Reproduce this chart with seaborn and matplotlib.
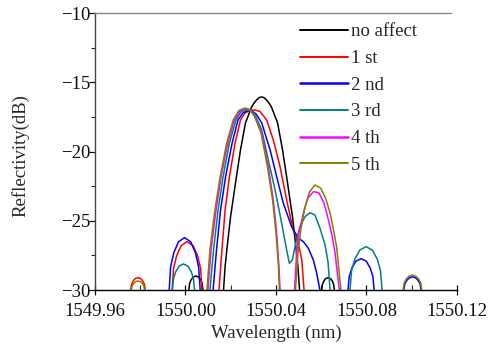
import numpy as np
import pandas as pd
import matplotlib
matplotlib.use("Agg")
import matplotlib.pyplot as plt
from matplotlib.lines import Line2D
import seaborn as sns

# ---------------- data ----------------
series_names = ["no affect", "1 st", "2 nd", "3 rd", "4 th", "5 th"]
series_colors = ["#000000", "#ff0000", "#0000ff", "#008080", "#ff00ff", "#808000"]

# no affect (black)
black_main_wl = [1550.0168, 1550.0175, 1550.0186, 1550.0199, 1550.0221, 1550.0243, 1550.0265, 1550.0292, 1550.0303,
                 1550.0314, 1550.0325, 1550.0336, 1550.0347, 1550.0358, 1550.0369, 1550.0380, 1550.0407, 1550.0429,
                 1550.0451, 1550.0473, 1550.0486, 1550.0497, 1550.0504]
black_main_db = [-30.0, -28.32, -26.61, -24.73, -22.27, -19.89, -17.94, -16.79, -16.50,
                 -16.28, -16.11, -16.06, -16.11, -16.28, -16.50, -16.79, -17.94, -19.89,
                 -22.27, -24.73, -26.61, -28.32, -30.0]
black_l1_wl = [1550.0015, 1550.0018, 1550.0024, 1550.0034, 1550.0046, 1550.0058, 1550.0068, 1550.0074, 1550.0077]
black_l1_db = [-30.0, -29.56, -29.28, -29.07, -28.99, -29.07, -29.28, -29.56, -30.0]
black_r1_wl = [1550.0602, 1550.0605, 1550.0611, 1550.0619, 1550.0630, 1550.0641, 1550.0650, 1550.0655, 1550.0658]
black_r1_db = [-30.0, -29.61, -29.37, -29.18, -29.11, -29.18, -29.37, -29.61, -30.0]

# 1 st (red)
red_l2_wl = [1549.9758, 1549.9761, 1549.9768, 1549.9777, 1549.9790, 1549.9803, 1549.9812, 1549.9819, 1549.9822]
red_l2_db = [-30.0, -29.61, -29.37, -29.18, -29.11, -29.18, -29.37, -29.61, -30.0]
red_l1_wl = [1549.9941, 1549.9947, 1549.9961, 1549.9981, 1550.0007, 1550.0033, 1550.0053, 1550.0067, 1550.0073]
red_l1_db = [-30.0, -28.46, -27.52, -26.79, -26.51, -26.79, -27.52, -28.46, -30.0]
red_main_wl = [1550.0148, 1550.0161, 1550.0175, 1550.0194, 1550.0219, 1550.0243, 1550.0263, 1550.0285, 1550.0307,
               1550.0329, 1550.0359, 1550.0388, 1550.0418, 1550.0447, 1550.0476, 1550.0496, 1550.0514, 1550.0524]
red_main_db = [-30.0, -27.11, -24.22, -21.84, -19.39, -17.73, -17.22, -17.04, -17.00,
               -17.11, -17.73, -19.17, -21.10, -23.50, -25.67, -26.39, -27.83, -30.0]

# 2 nd (blue)
blue_l1_wl = [1549.9928, 1549.9934, 1549.9948, 1549.9969, 1549.9996, 1550.0023, 1550.0044, 1550.0058, 1550.0065]
blue_l1_db = [-30.0, -28.34, -27.32, -26.52, -26.22, -26.52, -27.32, -28.34, -30.0]
blue_main_wl = [1550.0122, 1550.0137, 1550.0155, 1550.0177, 1550.0206, 1550.0232, 1550.0254, 1550.0276, 1550.0294,
                1550.0312, 1550.0337, 1550.0374, 1550.0403, 1550.0432, 1550.0469, 1550.0499, 1550.0521, 1550.0543,
                1550.0565, 1550.0580, 1550.0594]
blue_main_db = [-30.0, -27.11, -24.22, -21.84, -19.39, -17.73, -17.22, -17.04, -17.08,
                -17.29, -17.94, -19.89, -21.82, -23.72, -25.43, -26.25, -26.51, -26.99,
                -27.83, -28.79, -30.0]
blue_r1_wl = [1550.0718, 1550.0724, 1550.0736, 1550.0753, 1550.0776, 1550.0799, 1550.0816, 1550.0828, 1550.0834]
blue_r1_db = [-30.0, -29.01, -28.40, -27.92, -27.74, -27.92, -28.40, -29.01, -30.0]
blue_r2_wl = [1550.0965, 1550.0969, 1550.0977, 1550.0988, 1550.1003, 1550.1018, 1550.1029, 1550.1037, 1550.1041]
blue_r2_db = [-30.0, -29.58, -29.33, -29.13, -29.05, -29.13, -29.33, -29.58, -30.0]

# 3 rd (teal)
teal_l1_wl = [1549.9942, 1549.9947, 1549.9957, 1549.9972, 1549.9991, 1550.0010, 1550.0025, 1550.0035, 1550.0040]
teal_l1_db = [-30.0, -29.17, -28.67, -28.27, -28.12, -28.27, -28.67, -29.17, -30.0]
teal_main_wl = [1550.0108, 1550.0124, 1550.0144, 1550.0166, 1550.0194, 1550.0223, 1550.0245, 1550.0270, 1550.0290,
                1550.0307, 1550.0337, 1550.0366, 1550.0396, 1550.0425, 1550.0447, 1550.0459, 1550.0472, 1550.0487,
                1550.0506, 1550.0528, 1550.0550, 1550.0572, 1550.0594, 1550.0617, 1550.0630, 1550.0639]
teal_main_db = [-30.0, -27.11, -24.22, -21.84, -19.39, -17.73, -17.15, -16.97, -17.04,
                -17.36, -18.45, -20.61, -22.78, -25.18, -27.11, -28.07, -27.83, -26.63,
                -25.43, -24.71, -24.42, -24.58, -25.52, -26.75, -27.98, -30.0]
teal_r1_wl = [1550.0727, 1550.0734, 1550.0748, 1550.0770, 1550.0798, 1550.0826, 1550.0848, 1550.0862, 1550.0869]
teal_r1_db = [-30.0, -28.62, -27.78, -27.12, -26.87, -27.12, -27.78, -28.62, -30.0]

# 4 th (magenta)
mag_main_wl = [1550.0099, 1550.0113, 1550.0135, 1550.0157, 1550.0187, 1550.0216, 1550.0241, 1550.0265,
               1550.0285, 1550.0307, 1550.0337, 1550.0366, 1550.0388, 1550.0403, 1550.0413, 1550.0418]
mag_main_db = [-30.0, -27.11, -24.22, -21.84, -19.39, -17.73, -17.08, -16.90,
               -17.00, -17.49, -18.66, -21.10, -23.50, -25.88, -28.32, -30.0]
mag_r1_wl = [1550.0482, 1550.0491, 1550.0502, 1550.0521, 1550.0541, 1550.0566, 1550.0590, 1550.0612,
             1550.0632, 1550.0648, 1550.0661, 1550.0680]
mag_r1_db = [-30.0, -27.33, -25.81, -24.44, -23.36, -22.89, -23.00, -23.72, -24.95, -26.10, -27.33, -30.0]

# 5 th (olive)
olive_l2_wl = [1549.9761, 1549.9764, 1549.9770, 1549.9779, 1549.9790, 1549.9802, 1549.9810, 1549.9816, 1549.9819]
olive_l2_db = [-30.0, -29.71, -29.54, -29.40, -29.35, -29.40, -29.54, -29.71, -30.0]
olive_main_wl = [1550.0095, 1550.0108, 1550.0130, 1550.0153, 1550.0182, 1550.0211, 1550.0236, 1550.0263,
                 1550.0283, 1550.0305, 1550.0334, 1550.0362, 1550.0385, 1550.0400, 1550.0411, 1550.0415]
olive_main_db = [-30.0, -27.11, -24.22, -21.84, -19.39, -17.73, -17.04, -16.86,
                 -16.97, -17.44, -18.66, -21.10, -23.50, -25.88, -28.32, -30.0]
olive_r1_wl = [1550.0486, 1550.0497, 1550.0511, 1550.0528, 1550.0548, 1550.0572, 1550.0597, 1550.0619,
               1550.0639, 1550.0656, 1550.0668, 1550.0687]
olive_r1_db = [-30.0, -27.33, -25.52, -24.01, -22.92, -22.42, -22.64, -23.36, -24.44, -25.81, -26.90, -30.0]
olive_r2_wl = [1550.0962, 1550.0966, 1550.0975, 1550.0987, 1550.1003, 1550.1019, 1550.1032, 1550.1040, 1550.1044]
olive_r2_db = [-30.0, -29.52, -29.23, -29.01, -28.92, -29.01, -29.23, -29.52, -30.0]

x_ticks = [1549.96, 1550.00, 1550.04, 1550.08, 1550.12]
x_tick_labels = ["1549.96", "1550.00", "1550.04", "1550.08", "1550.12"]
y_ticks = [-30, -25, -20, -15, -10]

segments = [
    ("no affect", black_main_wl, black_main_db), ("no affect", black_l1_wl, black_l1_db),
    ("no affect", black_r1_wl, black_r1_db),
    ("1 st", red_l2_wl, red_l2_db), ("1 st", red_l1_wl, red_l1_db), ("1 st", red_main_wl, red_main_db),
    ("2 nd", blue_l1_wl, blue_l1_db), ("2 nd", blue_main_wl, blue_main_db),
    ("2 nd", blue_r1_wl, blue_r1_db), ("2 nd", blue_r2_wl, blue_r2_db),
    ("3 rd", teal_l1_wl, teal_l1_db), ("3 rd", teal_main_wl, teal_main_db), ("3 rd", teal_r1_wl, teal_r1_db),
    ("4 th", mag_main_wl, mag_main_db), ("4 th", mag_r1_wl, mag_r1_db),
    ("5 th", olive_l2_wl, olive_l2_db), ("5 th", olive_main_wl, olive_main_db),
    ("5 th", olive_r1_wl, olive_r1_db), ("5 th", olive_r2_wl, olive_r2_db),
]

rows = []
for i, (name, wl, db) in enumerate(segments):
    for w, d in zip(wl, db):
        rows.append({"series": name, "seg": i, "wl": w, "db": d})
df = pd.DataFrame(rows)

# ---------------- plot ----------------
sns.set_style("ticks")
plt.rcParams["font.family"] = ["Liberation Serif", "DejaVu Serif"]
plt.rcParams["axes.unicode_minus"] = True

fig = plt.figure(figsize=(4.89, 3.49), dpi=100)
ax = fig.add_axes([95 / 489, 59 / 349, 362 / 489, 277 / 349])

palette = dict(zip(series_names, series_colors))
sns.lineplot(data=df, x="wl", y="db", hue="series", units="seg", estimator=None, sort=False,
             hue_order=series_names, palette=palette, linewidth=1.1, legend=False, ax=ax)

ax.set_xlim(1549.96, 1550.12)
ax.set_ylim(-30, -10)
ax.set_xticks(x_ticks)
ax.set_xticklabels(x_tick_labels)
ax.set_xticks(np.arange(1549.96, 1550.121, 0.02), minor=True)
ax.set_yticks(y_ticks)
ax.set_yticks(np.arange(-30, -9.9, 2.5), minor=True)

ax.tick_params(axis="x", which="major", direction="inout", length=7, width=0.9, labelsize=13.5, pad=6, colors="#111111")
ax.tick_params(axis="x", which="minor", direction="in", length=3.5, width=0.8)
ax.tick_params(axis="y", which="major", direction="out", length=4.5, width=0.9, labelsize=13.5, pad=-1, colors="#111111")
ax.tick_params(axis="y", which="minor", direction="out", length=3, width=0.8)

ax.set_xlabel("Wavelength (nm)", fontsize=13.5, labelpad=3)
ax.set_ylabel("Reflectivity(dB)", fontsize=13.5)
ax.yaxis.set_label_coords(-0.182, 0.484)

for s in ["left", "bottom", "top"]:
    ax.spines[s].set_visible(True)
ax.spines["right"].set_visible(False)
ax.spines["bottom"].set_color("#000000")
ax.spines["left"].set_color("#444444")
ax.spines["top"].set_color("#888888")
ax.spines["top"].set_bounds(1549.96, 1550.1173)
for s in ["left", "bottom", "top"]:
    ax.spines[s].set_linewidth(1.0)

handles = [Line2D([0], [0], color=c, lw=1.8 if c in ("#0000ff", "#ff00ff") else 1.4) for c in series_colors]
leg = ax.legend(handles, series_names, loc="upper left", bbox_to_anchor=(296 / 489, 1 - 19.5 / 349),
                bbox_transform=fig.transFigure, frameon=False, fontsize=13.5, handlelength=2.6,
                handletextpad=0.15, labelspacing=0.51, borderpad=0.2, borderaxespad=0)

fig.savefig("out.png", dpi=100)
